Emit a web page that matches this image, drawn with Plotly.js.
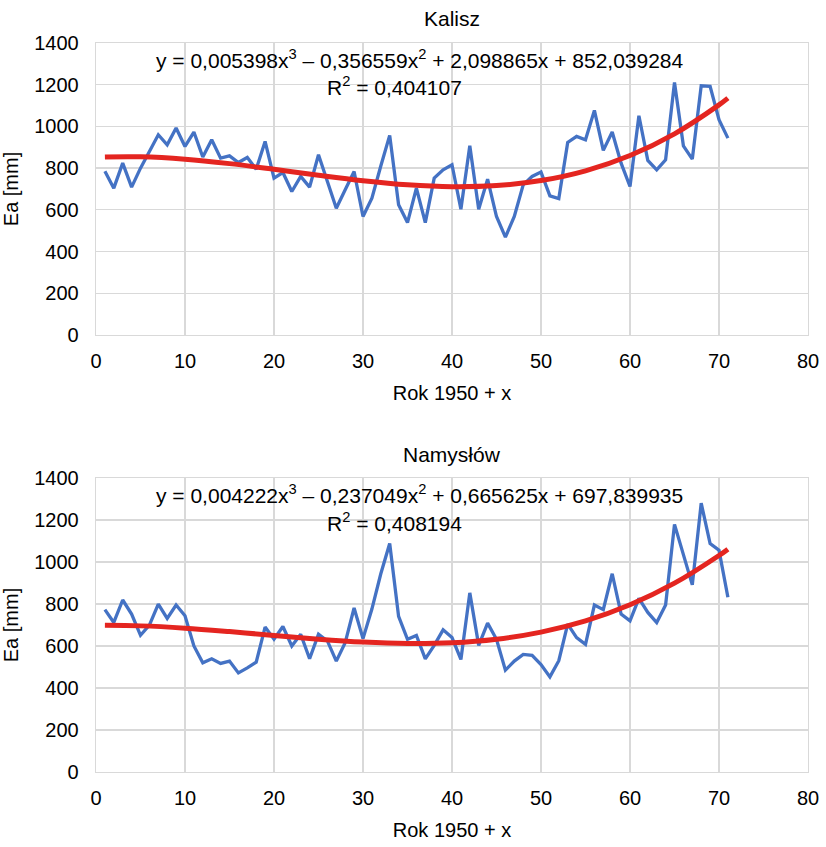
<!DOCTYPE html>
<html>
<head>
<meta charset="utf-8">
<script src="https://cdn.plot.ly/plotly-3.0.1.min.js"></script>
<style>html,body{margin:0;padding:0;background:#fff;}#chart{width:826px;height:847px;}</style>
</head>
<body>
<div id="chart"></div>
<script>
const years = Array.from({length: 71}, (_, i) => i + 1);

const kaliszEa = [785,704,824,709,800,880,960,912,992,904,
  973,853,936,848,859,827,851,795,928,752,
  779,688,760,709,864,736,608,696,784,568,
  656,810,957,624,539,704,539,752,792,816,
  603,907,603,747,568,469,568,720,760,781,
  667,654,923,952,936,1077,885,973,824,712,
  1051,837,792,840,1211,907,843,1195,1192,1032,944];

const namyslowEa = [773,712,819,752,651,699,799,731,795,744,
  600,520,539,517,528,472,496,523,690,632,
  693,600,656,539,656,624,528,616,781,635,
  776,944,1088,741,632,650,539,603,677,640,
  536,853,603,709,632,485,528,560,555,512,
  453,530,704,640,608,795,773,944,752,720,
  827,760,712,795,1179,1032,891,1280,1088,1056,832];

const trendX = [1,5,10,15,20,25,30,35,40,45,50,55,60,65,70,71];
const kaliszTrend = [853.8,854.3,842.8,821.5,794.6,766.0,739.9,720.2,711.0,716.4,740.3,787.0,860.3,964.4,1103.3,1135.7];
const namyslowTrend = [698.3,695.8,685.0,668.7,650.1,632.3,618.5,611.8,615.4,632.5,666.3,719.8,796.4,899.1,1031.0,1061.2];

const titles = ["Kalisz", "Namysłów"];
const equations = [
  "y = 0,005398x<sup>3</sup> – 0,356559x<sup>2</sup> + 2,098865x + 852,039284",
  "y = 0,004222x<sup>3</sup> – 0,237049x<sup>2</sup> + 0,665625x + 697,839935"
];
const r2 = ["R<sup>2</sup> = 0,404107", "R<sup>2</sup> = 0,408194"];

const FONT = "Liberation Sans, Arial, sans-serif";
const BLUE = "#4472C4";
const RED = "#E42520";

const traces = [
  {x: years, y: kaliszEa, xaxis: "x", yaxis: "y", mode: "lines", line: {color: BLUE, width: 3.3}},
  {x: trendX, y: kaliszTrend, xaxis: "x", yaxis: "y", mode: "lines", line: {color: RED, width: 5, shape: "spline"}},
  {x: years, y: namyslowEa, xaxis: "x2", yaxis: "y2", mode: "lines", line: {color: BLUE, width: 3.3}},
  {x: trendX, y: namyslowTrend, xaxis: "x2", yaxis: "y2", mode: "lines", line: {color: RED, width: 5, shape: "spline"}}
];

function xax(anchor) {
  return {
    anchor: anchor, range: [0, 80], dtick: 10, tick0: 0,
    showgrid: true, gridcolor: "#d9d9d9", gridwidth: 1.3,
    zeroline: false, showline: true, linecolor: "#d9d9d9", linewidth: 1.3, mirror: true,
    ticks: "", ticklabelstandoff: 8,
    tickfont: {family: FONT, size: 20, color: "#000"},
    title: {text: "Rok 1950 + x", font: {family: FONT, size: 20, color: "#000"}, standoff: 14}
  };
}
function yax(anchor, domain) {
  return {
    anchor: anchor, domain: domain, range: [0, 1400], dtick: 200, tick0: 0,
    showgrid: true, gridcolor: "#d9d9d9", gridwidth: 1.3,
    zeroline: false, showline: true, linecolor: "#d9d9d9", linewidth: 1.3, mirror: true,
    ticks: "", ticklabelstandoff: 12,
    tickfont: {family: FONT, size: 20, color: "#000"},
    title: {text: "Ea [mm]", font: {family: FONT, size: 20, color: "#000"}, standoff: 14}
  };
}

const annFont = {family: FONT, size: 21, color: "#000"};
const layout = {
  width: 826, height: 847,
  margin: {l: 96, r: 18, t: 43, b: 75},
  paper_bgcolor: "#fff", plot_bgcolor: "#fff",
  showlegend: false,
  xaxis: xax("y"),
  yaxis: yax("x", [0.5995, 1]),
  xaxis2: xax("y2"),
  yaxis2: yax("x2", [0, 0.4033]),
  annotations: [
    {text: titles[0], xref: "paper", yref: "paper", x: 0.5, y: 1.034, xanchor: "center", yanchor: "middle", showarrow: false, font: annFont},
    {text: titles[1], xref: "paper", yref: "paper", x: 0.5, y: 0.4362, xanchor: "center", yanchor: "middle", showarrow: false, font: annFont},
    {text: equations[0], xref: "x", yref: "y", x: 36.4, y: 1325, xanchor: "center", yanchor: "middle", showarrow: false, font: annFont},
    {text: r2[0], xref: "x", yref: "y", x: 33.5, y: 1192, xanchor: "center", yanchor: "middle", showarrow: false, font: annFont},
    {text: equations[1], xref: "x2", yref: "y2", x: 36.4, y: 1325, xanchor: "center", yanchor: "middle", showarrow: false, font: annFont},
    {text: r2[1], xref: "x2", yref: "y2", x: 33.5, y: 1192, xanchor: "center", yanchor: "middle", showarrow: false, font: annFont}
  ]
};

Plotly.newPlot("chart", traces, layout, {staticPlot: true, displayModeBar: false});
</script>
</body>
</html>
